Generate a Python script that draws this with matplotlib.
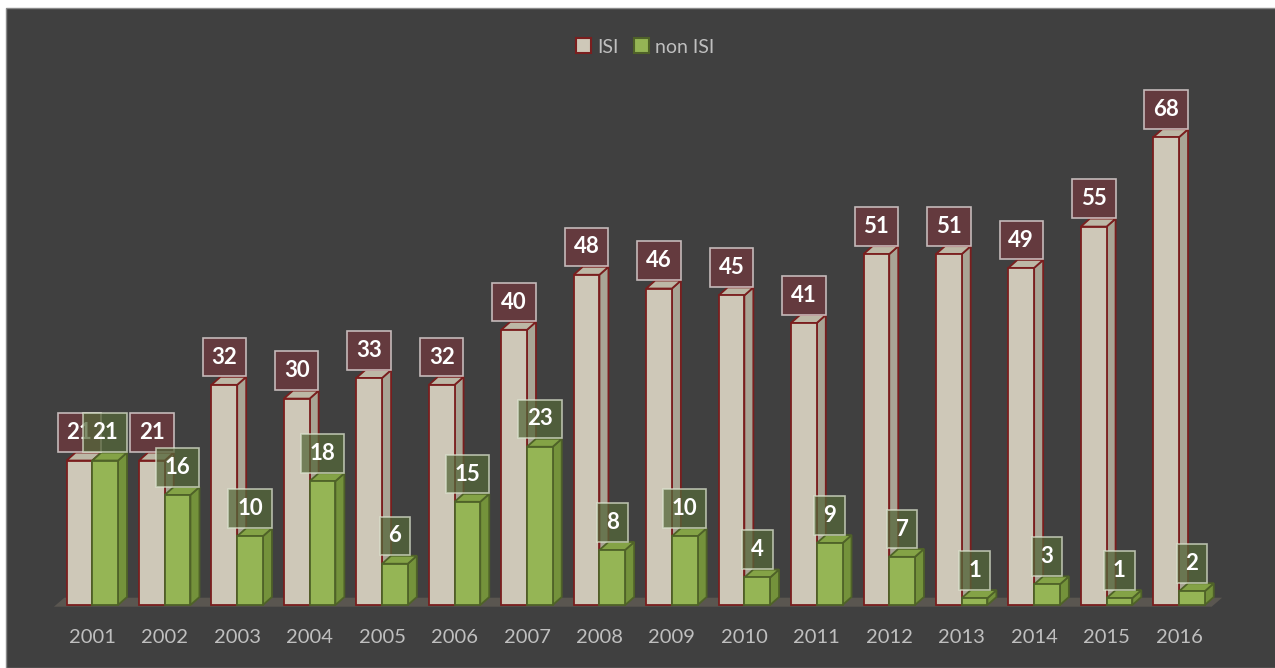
import matplotlib.pyplot as plt
from matplotlib.patches import Polygon, Patch, Rectangle

years = ['2001', '2002', '2003', '2004', '2005', '2006', '2007', '2008',
         '2009', '2010', '2011', '2012', '2013', '2014', '2015', '2016']
isi = [21, 21, 32, 30, 33, 32, 40, 48, 46, 45, 41, 51, 51, 49, 55, 68]
non_isi = [21, 16, 10, 18, 6, 15, 23, 8, 10, 4, 9, 7, 1, 3, 1, 2]

bg = '#404040'
isi_face, isi_side, isi_top, isi_edge = '#CEC8B8', '#A9A595', '#BDB8A6', '#7A1E1E'
grn_face, grn_side, grn_top, grn_edge = '#95B555', '#74923B', '#84A346', '#4F6228'
isi_box, grn_box = '#6B3A3E', '#55673A'
txt = '#BFBFBF'

plt.rcParams['font.family'] = ['Lato', 'DejaVu Sans']

fig = plt.figure(figsize=(12.75, 6.68), dpi=100, facecolor='white')
# chart area (white strip on top/left as in the screenshot)
fig.patches.append(Rectangle((6 / 1275, 0), 1, 660 / 668, transform=fig.transFigure,
                             facecolor=bg, edgecolor='#8A8A8A', lw=1, zorder=-5))

ax = fig.add_axes([0, 63 / 668, 1, 605 / 668])
ax.set_facecolor('none')
ax.set_xlim(-92.3 / 72.45, (1275 - 92.3) / 72.45)
ax.set_ylim(0, 605 / 6.88)
for s in ax.spines.values():
    s.set_visible(False)
ax.set_yticks([])

w = 0.355   # bar width
dx = 0.124  # depth offset x
dy = 1.16   # depth offset y

# floor
ax.add_patch(Polygon([(-0.53, -0.25), (15.45, -0.25), (15.45 + dx + 0.02, dy - 0.1),
                      (-0.53 + dx + 0.02, dy - 0.1)], closed=True,
                     facecolor='#5A5650', edgecolor='none', clip_on=False, zorder=1))


def bar3d(x0, h, face, side, top, edge, z):
    ax.add_patch(Polygon([(x0 + w, 0), (x0 + w + dx, dy), (x0 + w + dx, h + dy), (x0 + w, h)],
                         closed=True, facecolor=side, edgecolor=edge, lw=1.3, zorder=z,
                         clip_on=False))
    ax.add_patch(Polygon([(x0, h), (x0 + w, h), (x0 + w + dx, h + dy), (x0 + dx, h + dy)],
                         closed=True, facecolor=top, edgecolor=edge, lw=1.3, zorder=z,
                         clip_on=False))
    ax.bar(x0, h, width=w, align='edge', color=face, edgecolor=edge, lw=1.3,
           zorder=z + 0.5, clip_on=False)


xs = range(len(years))
for i in xs:
    bar3d(i - w, isi[i], isi_face, isi_side, isi_top, isi_edge, 2 + i * 0.01)
    bar3d(i, non_isi[i], grn_face, grn_side, grn_top, grn_edge, 3 + i * 0.01)

lab_kw = dict(textcoords='offset points', ha='center', va='center', color='white',
              fontsize=16, fontweight='bold')
for i in xs:
    ax.annotate(str(isi[i]), (i - w / 2, isi[i]), xytext=(0, 20), zorder=6, **lab_kw,
                bbox=dict(boxstyle='square,pad=0.4', facecolor=isi_box, alpha=0.85,
                          edgecolor='#D9CFCF', lw=1.2))
    ax.annotate(str(non_isi[i]), (i + w / 2, non_isi[i]), xytext=(0, 20), zorder=7, **lab_kw,
                bbox=dict(boxstyle='square,pad=0.4', facecolor=grn_box, alpha=0.75,
                          edgecolor='#DCE3CF', lw=1.2))

ax.set_xticks(list(xs))
ax.set_xticklabels(years)
ax.tick_params(axis='x', length=0, pad=17, labelsize=14.5, labelcolor=txt)

handles = [Patch(facecolor=isi_face, edgecolor=isi_edge, lw=1.5, label='ISI'),
           Patch(facecolor=grn_face, edgecolor=grn_edge, lw=1.5, label='non ISI')]
fig.legend(handles=handles, loc='center', bbox_to_anchor=(645 / 1275, 1 - 47 / 668),
           ncol=2, frameon=False, fontsize=14, labelcolor=txt, handlelength=0.8,
           handleheight=0.8, handletextpad=0.3, columnspacing=0.8)

fig.savefig('out.png', dpi=100, facecolor=fig.get_facecolor())
